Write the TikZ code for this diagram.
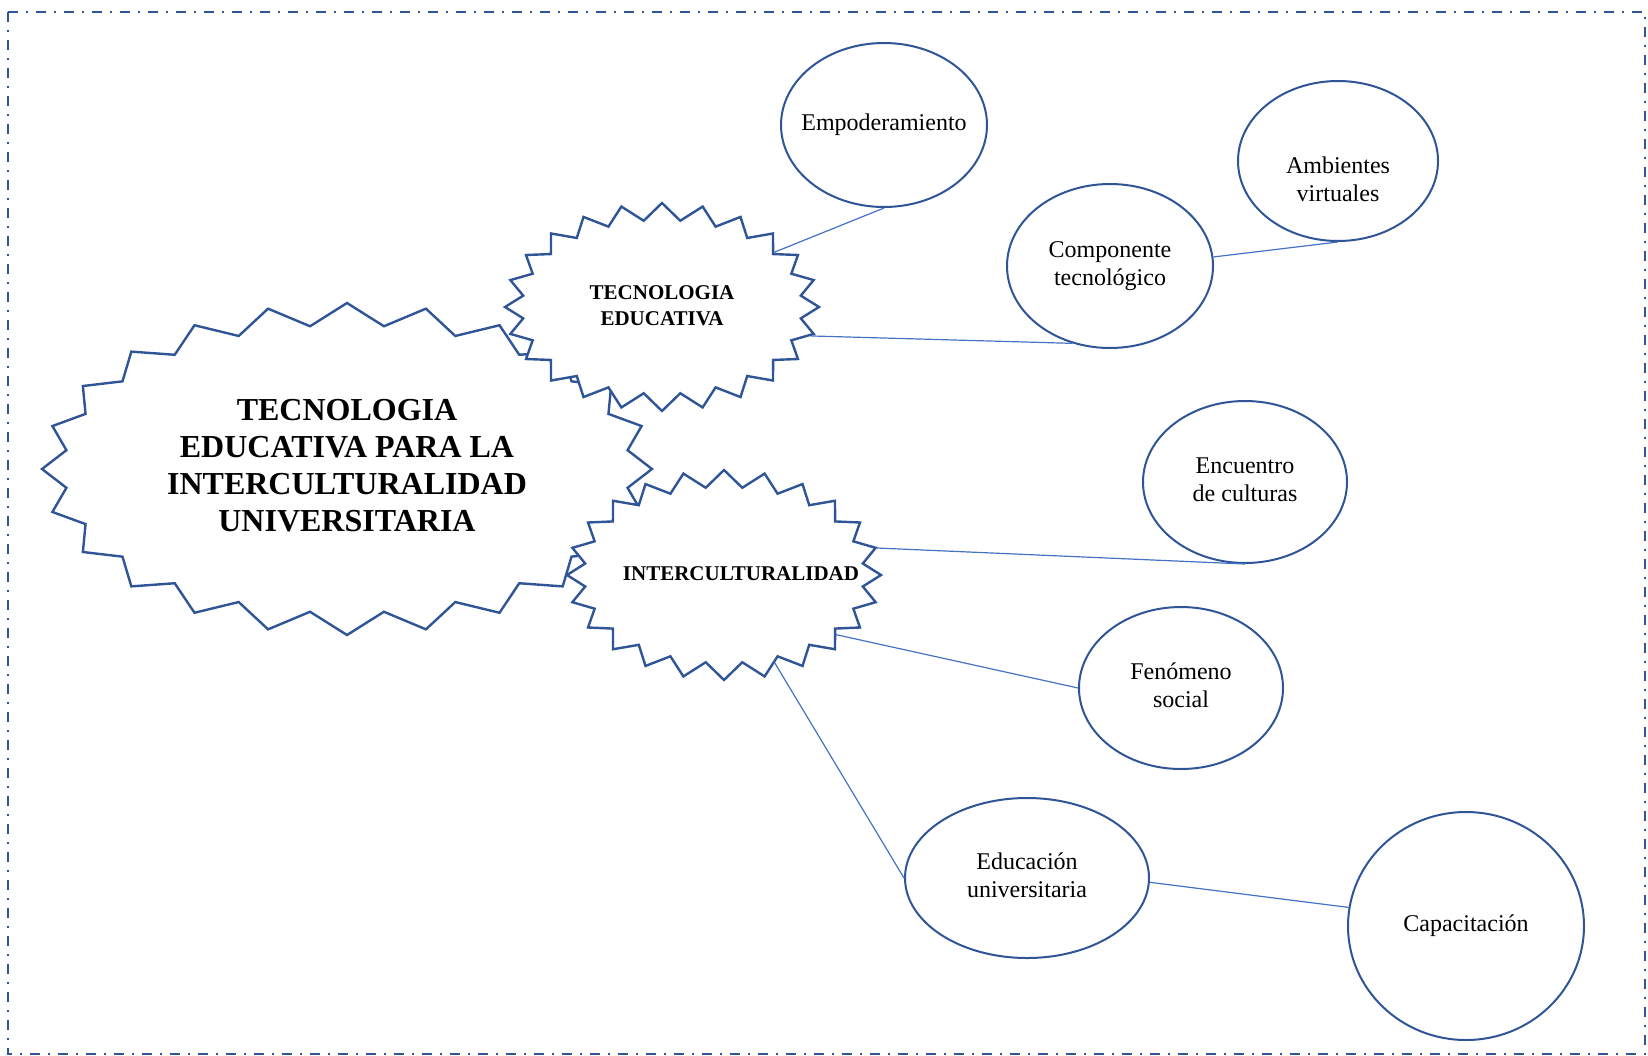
\documentclass[tikz,border=0pt]{standalone}
\usepackage{fontspec}
\setmainfont{Liberation Serif}
\usetikzlibrary{shapes.symbols,shapes.geometric}
\definecolor{sb_blue}{RGB}{47, 85, 151}
\definecolor{ln_blue}{RGB}{68, 114, 196}
\newcommand{\lbl}[1]{\makebox[0pt]{\begin{tabular}{@{}c@{}}#1\end{tabular}}}
\tikzstyle{sb}=[starburst,random starburst=0,starburst points=24,draw=sb_blue,
  fill=white,line width=1.2pt,inner sep=0pt]
\tikzstyle{bub}=[ellipse,draw=sb_blue,fill=white,line width=1pt,inner sep=0pt,
  minimum width=102pt,minimum height=81pt,font=\fontsize{12}{14}\selectfont]
\tikzstyle{ln}=[draw=ln_blue,line width=0.6pt]

\begin{document}
\begin{tikzpicture}[x=0.5pt, y=-0.5pt]
        \useasboundingbox (0,0) rectangle (1648,1055);
        \draw[sb_blue, line width=1pt, dash pattern=on 5pt off 4pt on 1pt off 4pt] (8,12) rectangle (1645,1054);
        \node[style=sb, starburst point height=11pt, minimum width=305pt, minimum height=166pt,
          font=\bfseries\fontsize{16}{18.5}\selectfont] (0) at (347,469)
          {\lbl{TECNOLOGIA\\EDUCATIVA PARA LA\\INTERCULTURALIDAD\\UNIVERSITARIA}};
		\node[style=sb, starburst point height=8.5pt, minimum width=157pt, minimum height=104pt,
          font=\bfseries\fontsize{10.5}{13.3}\selectfont] (1) at (662,307) {\lbl{TECNOLOGIA\\EDUCATIVA}};
		\node[style=sb, starburst point height=8.5pt, minimum width=157pt, minimum height=105pt,
          font=\bfseries\fontsize{10.5}{13.3}\selectfont] (2) at (724,575) {\lbl{\hspace*{17pt}INTERCULTURALIDAD}};
		\node[style=bub, minimum width=103pt, minimum height=82pt] (3) at (884,125) {\lbl{Empoderamiento}};
		\node[style=bub, minimum width=100pt, minimum height=80pt] (4) at (1338,161)
          {\raisebox{-13.5pt}[0pt][0pt]{\lbl{Ambientes\\virtuales}}};
		\node[style=bub, minimum width=103pt, minimum height=82pt] (5) at (1110,266) {\lbl{Componente\\tecnológico}};
		\node[style=bub] (6) at (1245,482) {\lbl{Encuentro\\de culturas}};
		\node[style=bub] (7) at (1181,688) {\lbl{Fenómeno\\social}};
		\node[style=bub, minimum width=122pt, minimum height=80pt] (8) at (1027,878) {\lbl{Educación\\universitaria}};
		\node[style=bub, minimum width=118pt, minimum height=114pt] (9) at (1466,926) {\lbl{Capacitación}};
		\draw[style=ln] (3.south) to (1.26);
		\draw[style=ln] (4.south) to (5.5);
		\draw[style=ln] (5.-116) to (1.-11);
		\draw[style=ln] (6.south) to (2.10);
		\draw[style=ln] (7.west) to (2.-28);
		\draw[style=ln] (8.west) to (2.-60);
		\draw[style=ln] (9.171) to (8.-2);
    \end{tikzpicture}
\end{document}
